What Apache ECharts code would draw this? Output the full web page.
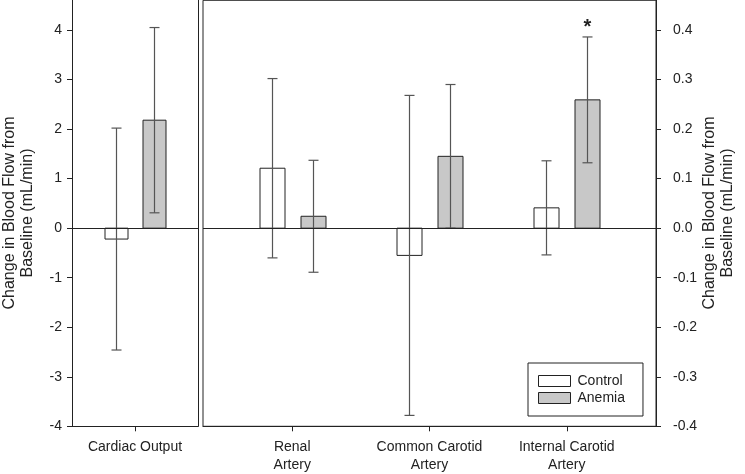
<!DOCTYPE html>
<html>
<head>
<meta charset="utf-8">
<script src="https://cdn.jsdelivr.net/npm/echarts@6/dist/echarts.min.js"></script>
<style>
html,body{margin:0;padding:0;background:#fff;}
#chart{width:745px;height:474px;}
</style>
</head>
<body>
<div id="chart"></div>
<script>
// ---- Data ----
const leftCategories = ['Cardiac Output'];
const rightCategories = ['Renal\nArtery', 'Common Carotid\nArtery', 'Internal Carotid\nArtery'];
const seriesNames = ['Control', 'Anemia'];

const controlLeftMean = [-0.22];
const controlLeftErr = [2.24];
const anemiaLeftMean = [2.18];
const anemiaLeftErr = [1.87];

const controlRightMean = [0.121, -0.055, 0.041];
const controlRightErr = [0.181, 0.323, 0.095];
const anemiaRightMean = [0.024, 0.145, 0.259];
const anemiaRightErr = [0.113, 0.145, 0.127];
const anemiaRightMarks = ['', '', '*'];

const leftTicks = [-4, -3, -2, -1, 0, 1, 2, 3, 4];
const rightTicks = [-0.4, -0.3, -0.2, -0.1, 0.0, 0.1, 0.2, 0.3, 0.4];

const axisNameLines = ['Change in Blood Flow from', 'Baseline (mL/min)'];

// ---- Styling ----
const FONT = "'Liberation Sans', Arial, Helvetica, sans-serif";
const TXT = '#222';
const LINE = '#222';
const ERR = '#555';
const FILLS = ['#ffffff', '#c8c8c8'];

function makeRender(offset, barW, fill, marks) {
  return function (params, api) {
    const x = api.value(0), m = api.value(1), e = api.value(2);
    const p0 = api.coord([x, 0]);
    const pm = api.coord([x, m]);
    const ph = api.coord([x, m + e]);
    const pl = api.coord([x, m - e]);
    const cx = Math.round(p0[0] + offset) + 0.5;
    const top = Math.min(p0[1], pm[1]);
    const h = Math.abs(p0[1] - pm[1]);
    const cap = 5;
    const children = [
      { type: 'rect', shape: { x: cx - barW / 2, y: top, width: barW, height: h },
        style: { fill: fill, stroke: LINE, lineWidth: 1 } },
      { type: 'line', shape: { x1: cx, y1: ph[1], x2: cx, y2: pl[1] }, style: { stroke: ERR, lineWidth: 1.2 } },
      { type: 'line', shape: { x1: cx - cap, y1: ph[1], x2: cx + cap, y2: ph[1] }, style: { stroke: ERR, lineWidth: 1.2 } },
      { type: 'line', shape: { x1: cx - cap, y1: pl[1], x2: cx + cap, y2: pl[1] }, style: { stroke: ERR, lineWidth: 1.2 } }
    ];
    const mk = marks ? marks[params.dataIndex] : '';
    if (mk) {
      children.push({ type: 'text', style: { text: mk, x: cx, y: ph[1] - 9, align: 'center', verticalAlign: 'middle',
        font: 'bold 20px ' + FONT, fill: TXT } });
    }
    return { type: 'group', children: children };
  };
}

function toData(means, errs, xStart) {
  return means.map((m, i) => [xStart + i, m, errs[i]]);
}

const zeroLine = {
  silent: true, symbol: 'none', label: { show: false },
  lineStyle: { color: LINE, width: 1, type: 'solid' },
  data: [{ yAxis: 0 }]
};

const labelFont = { fontSize: 14, color: TXT, fontFamily: FONT };

function axisTitle(cx, cy) {
  const gap = 17.5;
  return axisNameLines.map((line, i) => ({
    type: 'text', x: cx + (i - (axisNameLines.length - 1) / 2) * gap, y: cy, rotation: Math.PI / 2, silent: true,
    style: { text: line, align: 'center', verticalAlign: 'middle', fill: TXT, font: '16px ' + FONT }
  }));
}

const option = {
  animation: false,
  backgroundColor: '#fff',
  textStyle: { fontFamily: FONT, color: TXT },
  grid: [
    { left: 72, top: 0.3, width: 126, height: 426, show: false },
    { left: 203, top: 0.3, width: 453, height: 426, show: true, borderColor: LINE, borderWidth: 1, backgroundColor: 'transparent' }
  ],
  graphic: axisTitle(18.5, 213).concat(axisTitle(718.5, 213)),
  xAxis: [
    { gridIndex: 0, type: 'value', min: 0, max: 2, splitLine: { show: false },
      axisLine: { show: true, onZero: false, lineStyle: { color: LINE } },
      axisTick: { show: true, length: 5, customValues: [1], lineStyle: { color: LINE } },
      axisLabel: Object.assign({ customValues: [1], formatter: v => leftCategories[Math.round(v) - 1] || '',
        margin: 12, lineHeight: 17.6 }, labelFont) },
    { gridIndex: 1, type: 'value', min: 0.35, max: 3.65, splitLine: { show: false },
      axisLine: { show: true, onZero: false, lineStyle: { color: LINE } },
      axisTick: { show: true, length: 5, customValues: [1, 2, 3], lineStyle: { color: LINE } },
      axisLabel: Object.assign({ customValues: [1, 2, 3], formatter: v => rightCategories[Math.round(v) - 1] || '',
        margin: 12, lineHeight: 17.6 }, labelFont) }
  ],
  yAxis: [
    { gridIndex: 0, type: 'value', position: 'left', min: -4, max: 4.6, splitLine: { show: false },
      axisLine: { show: true, onZero: false, lineStyle: { color: LINE } },
      axisTick: { show: true, length: 5, customValues: leftTicks, lineStyle: { color: LINE } },
      axisLabel: Object.assign({ customValues: leftTicks, formatter: v => String(Math.round(v)), margin: 10 }, labelFont) },
    { gridIndex: 0, type: 'value', position: 'right', min: -4, max: 4.6, splitLine: { show: false },
      axisLine: { show: true, onZero: false, lineStyle: { color: LINE } },
      axisTick: { show: false }, axisLabel: { show: false } },
    { gridIndex: 1, type: 'value', position: 'right', min: -0.4, max: 0.46, splitLine: { show: false },
      axisLine: { show: true, onZero: false, lineStyle: { color: LINE } },
      axisTick: { show: true, length: 5, customValues: rightTicks, lineStyle: { color: LINE } },
      axisLabel: Object.assign({ customValues: rightTicks, formatter: v => v.toFixed(1), margin: 17 }, labelFont) }
  ],
  legend: {
    orient: 'vertical', left: 528, top: 363,
    padding: [11, 18, 11, 10], itemGap: 3, itemWidth: 32, itemHeight: 11,
    borderColor: LINE, borderWidth: 1, borderRadius: 0, backgroundColor: '#fff',
    textStyle: { fontSize: 14, color: TXT, fontFamily: FONT, padding: [0, 0, 0, 2] },
    data: [
      { name: 'Control', icon: 'rect', itemStyle: { color: FILLS[0], borderColor: LINE, borderWidth: 1 } },
      { name: 'Anemia', icon: 'rect', itemStyle: { color: FILLS[1], borderColor: LINE, borderWidth: 1 } }
    ]
  },
  series: [
    { type: 'custom', name: seriesNames[0], xAxisIndex: 0, yAxisIndex: 0,
      itemStyle: { color: FILLS[0], borderColor: LINE, borderWidth: 1 },
      renderItem: makeRender(-19, 23, FILLS[0]), data: toData(controlLeftMean, controlLeftErr, 1),
      encode: { x: 0, y: [1] }, markLine: zeroLine, z: 3 },
    { type: 'custom', name: seriesNames[1], xAxisIndex: 0, yAxisIndex: 0,
      itemStyle: { color: FILLS[1], borderColor: LINE, borderWidth: 1 },
      renderItem: makeRender(19, 23, FILLS[1]), data: toData(anemiaLeftMean, anemiaLeftErr, 1),
      encode: { x: 0, y: [1] }, z: 3 },
    { type: 'custom', name: seriesNames[0], xAxisIndex: 1, yAxisIndex: 2,
      itemStyle: { color: FILLS[0], borderColor: LINE, borderWidth: 1 },
      renderItem: makeRender(-20.5, 25, FILLS[0]), data: toData(controlRightMean, controlRightErr, 1),
      encode: { x: 0, y: [1] }, markLine: zeroLine, z: 3 },
    { type: 'custom', name: seriesNames[1], xAxisIndex: 1, yAxisIndex: 2,
      itemStyle: { color: FILLS[1], borderColor: LINE, borderWidth: 1 },
      renderItem: makeRender(20.5, 25, FILLS[1], anemiaRightMarks), data: toData(anemiaRightMean, anemiaRightErr, 1),
      encode: { x: 0, y: [1] }, z: 3 }
  ]
};

const chart = echarts.init(document.getElementById('chart'), null, { renderer: 'canvas' });
chart.setOption(option);
</script>
</body>
</html>
